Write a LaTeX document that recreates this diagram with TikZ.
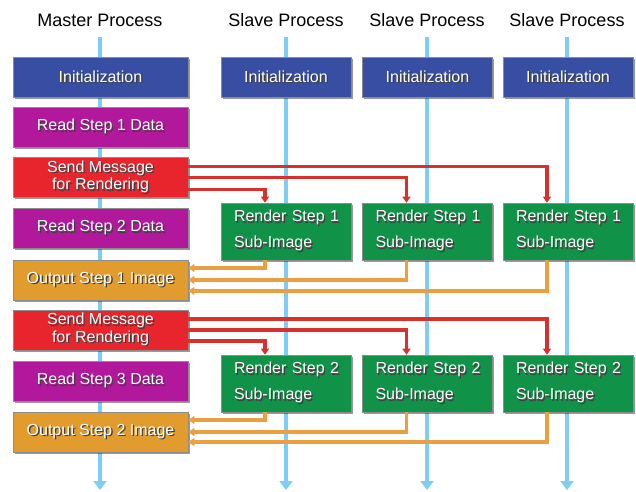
\documentclass[tikz,border=0pt]{standalone}
\usepackage{fontspec}
\setmainfont{Liberation Sans}
\usetikzlibrary{arrows.meta,shadows}

\definecolor{initblue}{RGB}{56,78,162}
\definecolor{readmag}{RGB}{178,24,155}
\definecolor{sendred}{RGB}{232,37,45}
\definecolor{outorg}{RGB}{226,155,45}
\definecolor{rendgrn}{RGB}{16,146,72}
\definecolor{lifeblue}{RGB}{125,205,245}
\definecolor{arrred}{RGB}{215,48,45}
\definecolor{arrorg}{RGB}{234,160,62}

\newcommand{\shtxt}[1]{\mbox{\rlap{\kern1.4pt\raisebox{-1.4pt}{\color{black!75}#1}}#1}}

\begin{document}
\begin{tikzpicture}[x=1pt,y=-1pt,
    box/.style={minimum height=40pt,inner sep=0pt,text=white,draw=black!45,line width=0.6pt,
      drop shadow={shadow xshift=1.5pt,shadow yshift=-1.5pt,fill=black,opacity=0.4},
      font=\fontsize{16}{16}\selectfont,align=center},
    mbox/.style={box,minimum width=175pt},
    sbox/.style={box,minimum width=130pt,fill=initblue},
    rbox/.style={box,fill=rendgrn,minimum height=57pt,text width=104pt,inner xsep=13pt,
      align=left,font=\fontsize{16}{26}\selectfont},
    title/.style={font=\fontsize{18}{18}\selectfont,inner sep=0pt},
    life/.style={draw=lifeblue,line width=4pt,shorten <=10.5pt,-{Triangle[length=9pt,width=13pt]}},
    sendarr/.style={draw=arrred,line width=3.2pt,-{Triangle[length=6pt,width=8pt]}},
    backarr/.style={draw=arrorg,line width=3.2pt,-{Triangle[length=6pt,width=8pt]}}]
  \useasboundingbox (0,0) rectangle (636,491);

  \node[title] (mtitle) at (100,20) {Master Process};
  \node[title] (stitle1) at (286,20) {Slave Process};
  \node[title] (stitle2) at (427,20) {Slave Process};
  \node[title] (stitle3) at (567,20) {Slave Process};

  \coordinate (mend) at (100,490);
  \coordinate (send1end) at (286,490);
  \coordinate (send2end) at (427,490);
  \coordinate (send3end) at (567,490);
  \draw[life] (mtitle.south) -- (mend);
  \draw[life] (stitle1.south) -- (send1end);
  \draw[life] (stitle2.south) -- (send2end);
  \draw[life] (stitle3.south) -- (send3end);

  % master column
  \node[mbox,fill=initblue] (minit) at (100.5,77) {\shtxt{Initialization}};
  \node[mbox,fill=readmag] (read1) at (100.5,127.5) {\shtxt{Read Step 1 Data}};
  \node[mbox,fill=sendred] (send1) at (100.5,177.5) {\shtxt{Send Message}\\\shtxt{for Rendering}};
  \node[mbox,fill=readmag] (read2) at (100.5,228.5) {\shtxt{Read Step 2 Data}};
  \node[mbox,fill=outorg] (out1) at (100.5,280) {\shtxt{Output Step 1 Image}};
  \node[mbox,fill=sendred] (send2) at (100.5,330) {\shtxt{Send Message}\\\shtxt{for Rendering}};
  \node[mbox,fill=readmag] (read3) at (100.5,381.5) {\shtxt{Read Step 3 Data}};
  \node[mbox,fill=outorg] (out2) at (100.5,432) {\shtxt{Output Step 2 Image}};

  % slave columns
  \node[sbox] (sinit1) at (286,77) {\shtxt{Initialization}};
  \node[sbox] (sinit2) at (427.5,77) {\shtxt{Initialization}};
  \node[sbox] (sinit3) at (568,77) {\shtxt{Initialization}};
  \node[rbox] (ren11) at (286,231.5) {\shtxt{Render Step 1}\\\shtxt{Sub-Image}};
  \node[rbox] (ren12) at (427.5,231.5) {\shtxt{Render Step 1}\\\shtxt{Sub-Image}};
  \node[rbox] (ren13) at (568,231.5) {\shtxt{Render Step 1}\\\shtxt{Sub-Image}};
  \node[rbox] (ren21) at (286,383.5) {\shtxt{Render Step 2}\\\shtxt{Sub-Image}};
  \node[rbox] (ren22) at (427.5,383.5) {\shtxt{Render Step 2}\\\shtxt{Sub-Image}};
  \node[rbox] (ren23) at (568,383.5) {\shtxt{Render Step 2}\\\shtxt{Sub-Image}};

  % step 1 messages
  \draw[sendarr] ([yshift=11pt]send1.east) -| ([xshift=-21pt]ren13.north);
  \draw[sendarr] (send1.east) -| ([xshift=-21pt]ren12.north);
  \draw[sendarr] ([yshift=-12pt]send1.east) -| ([xshift=-21pt]ren11.north);
  \draw[backarr] ([xshift=-21pt]ren11.south) |- ([yshift=12pt]out1.east);
  \draw[backarr] ([xshift=-21pt]ren12.south) |- (out1.east);
  \draw[backarr] ([xshift=-21pt]ren13.south) |- ([yshift=-11pt]out1.east);

  % step 2 messages
  \draw[sendarr] ([yshift=11pt]send2.east) -| ([xshift=-21pt]ren23.north);
  \draw[sendarr] (send2.east) -| ([xshift=-21pt]ren22.north);
  \draw[sendarr] ([yshift=-11pt]send2.east) -| ([xshift=-21pt]ren21.north);
  \draw[backarr] ([xshift=-21pt]ren21.south) |- ([yshift=12pt]out2.east);
  \draw[backarr] ([xshift=-21pt]ren22.south) |- (out2.east);
  \draw[backarr] ([xshift=-21pt]ren23.south) |- ([yshift=-10pt]out2.east);
\end{tikzpicture}
\end{document}
